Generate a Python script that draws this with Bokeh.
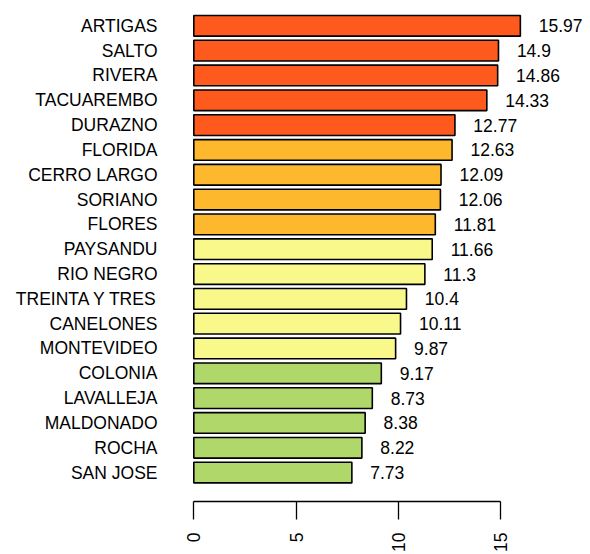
from bokeh.plotting import figure
from bokeh.models import ColumnDataSource, Range1d, FixedTicker
from bokeh.core.properties import value
from bokeh.embed import file_html
from bokeh.resources import INLINE
import math

departments = ["ARTIGAS", "SALTO", "RIVERA", "TACUAREMBO", "DURAZNO", "FLORIDA",
               "CERRO LARGO", "SORIANO", "FLORES", "PAYSANDU", "RIO NEGRO",
               "TREINTA Y TRES", "CANELONES", "MONTEVIDEO", "COLONIA", "LAVALLEJA",
               "MALDONADO", "ROCHA", "SAN JOSE"]
values = [15.97, 14.9, 14.86, 14.33, 12.77, 12.63, 12.09, 12.06, 11.81, 11.66,
          11.3, 10.4, 10.11, 9.87, 9.17, 8.73, 8.38, 8.22, 7.73]
groups = [1, 1, 1, 1, 1, 2, 2, 2, 2, 3, 3, 3, 3, 3, 4, 4, 4, 4, 4]
group_colors = {1: "#FF5A1E", 2: "#FDB82E", 3: "#F9F98B", 4: "#B0D76A"}
x_ticks = [0, 5, 10, 15]

n = len(departments)
ypos = [n - 1 - i for i in range(n)]
labels = [f"{v:g}" for v in values]
colors = [group_colors[g] for g in groups]
label_x = [v + 0.9 for v in values]

src = ColumnDataSource(dict(y=ypos, v=values, c=colors, lab=labels, lx=label_x))

p = figure(width=590, height=554, output_backend="svg", toolbar_location=None,
           x_range=Range1d(-0.406, 19.4), y_range=Range1d(-1.165, n - 1 + 1.02),
           min_border_left=185, min_border_right=0, min_border_top=0,
           min_border_bottom=51)
p.outline_line_color = None
p.grid.grid_line_color = None
p.background_fill_color = "white"

p.hbar(y="y", left=0, right="v", height=0.833, fill_color="c",
       line_color="black", line_width=1.6, source=src)
p.text(x="lx", y="y", text="lab", source=src, text_font_size="17.5px",
       text_align="left", text_baseline="middle", text_color="black",
       text_font=value("Liberation Sans"))

yax = p.yaxis[0]
yax.ticker = FixedTicker(ticks=ypos)
yax.major_label_overrides = {y: d for y, d in zip(ypos, departments)}
yax.axis_line_color = None
yax.major_tick_line_color = None
yax.minor_tick_line_color = None
yax.major_tick_out = 0
yax.major_tick_in = 0
yax.major_label_standoff = 28
yax.major_label_text_font = "Liberation Sans"
yax.major_label_text_font_size = "17.5px"
yax.major_label_text_color = "black"

xax = p.xaxis[0]
xax.ticker = FixedTicker(ticks=x_ticks)
xax.bounds = (0, 15)
xax.axis_line_color = "black"
xax.axis_line_width = 1.3
xax.major_tick_line_color = "black"
xax.major_tick_line_width = 1.3
xax.major_tick_out = 18
xax.major_tick_in = 0
xax.minor_tick_line_color = None
xax.major_label_orientation = math.pi / 2
xax.major_label_standoff = 13
xax.major_label_text_font = "Liberation Sans"
xax.major_label_text_font_size = "17.5px"
xax.major_label_text_color = "black"

open("out.html", "w").write(file_html(p, INLINE))
